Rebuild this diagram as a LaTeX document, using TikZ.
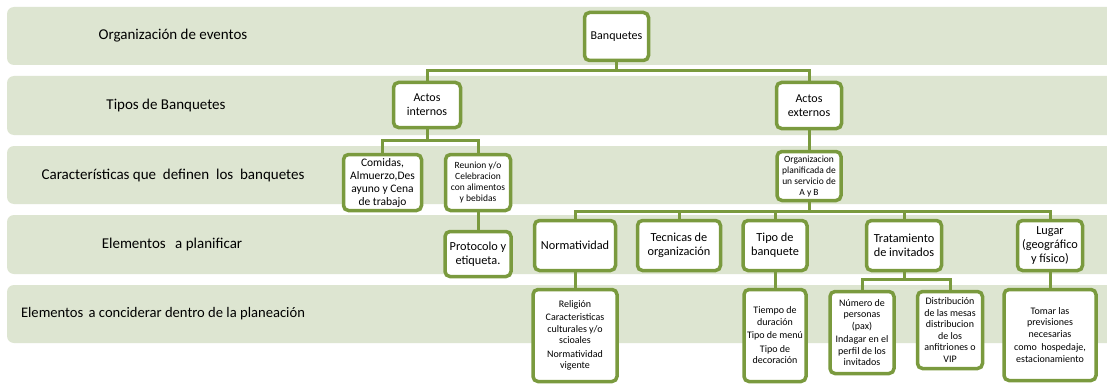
\documentclass[tikz,border=0pt]{standalone}
\usepackage{fontspec}
\setmainfont{Carlito}
\definecolor{bandc}{RGB}{221,229,209}
\definecolor{gc}{RGB}{122,154,62}
\tikzset{
  band/.style={fill=bandc, rounded corners=7pt},
  lab/.style={font=\fontsize{15}{17}\selectfont, anchor=center, inner sep=0pt},
  box/.style={draw=gc, line width=3.5pt, rounded corners=5pt, fill=white, align=center, inner sep=1pt},
  conn/.style={draw=gc, line width=3pt},
  fA/.style={font=\fontsize{12}{14}\selectfont},
  fB/.style={font=\fontsize{11.5}{13}\selectfont},
  fC/.style={font=\fontsize{9.5}{11}\selectfont},
  fD/.style={font=\fontsize{12.3}{14}\selectfont},
  fE/.style={font=\fontsize{10}{11.5}\selectfont},
}
\newcommand{\bx}[6]{\node[box,#1,minimum width=#4pt,minimum height=#5pt] (#2) at (#3) {#6};}
\begin{document}
\begin{tikzpicture}[x=1pt,y=-1pt]
\useasboundingbox (0,0) rectangle (1107,385);
\clip (0,0) rectangle (1107,385);
\fill[white] (0,0) rectangle (1107,385);
% bands
\path[band] (7,7) rectangle (1125,65);
\path[band] (7,76) rectangle (1125,135);
\path[band] (7,146) rectangle (1125,204);
\path[band] (7,215) rectangle (1125,274);
\path[band] (7,285) rectangle (1125,343);
\node[lab] (l1) at (173,36) {Organización de eventos};
\node[lab] (l2) at (166,105.5) {Tipos de Banquetes};
\node[lab] (l3) at (173,175) {Características que\ \ definen\ \ los\ \ banquetes};
\node[lab] (l4) at (172,244.5) {Elementos\hspace{6pt} a planificar};
\node[lab,font=\fontsize{14.6}{17}\selectfont] (l5) at (163,314) {Elementos\hspace{2pt} a conciderar dentro de la planeación};
% nodes
\bx{fA}{ban}{616.5,36.5}{64}{48}{Banquetes}
\bx{fA}{ai}{427,105}{67}{45}{Actos\\internos}
\bx{fA}{ae}{809,105.5}{65}{46}{Actos\\externos}
\bx{fB}{com}{382.5,182.5}{78}{56}{Comidas,\\Almuerzo,Des\\ayuno y Cena\\de trabajo}
\bx{fC}{reu}{478,182.5}{65}{56}{Reunion y/o\\Celebracion\\con alimentos\\y bebidas}
\bx{fC}{org}{809,176}{64}{49}{Organizacion\\planificada de\\un servicio de\\A y B}
\bx{fD}{pro}{478,254}{66}{45}{Protocolo y\\etiqueta.}
\bx{fD}{nor}{575,245.5}{81}{50}{Normatividad}
\bx{fD}{tec}{679,245.5}{83}{50}{Tecnicas de\\organización}
\bx{fD}{tip}{775,245.5}{64}{50}{Tipo de\\banquete}
\bx{fD}{tra}{904,245.5}{75}{50}{Tratamiento\\de invitados}
\bx{fD}{lug}{1050,245.5}{65}{50}{Lugar\\(geográfico\\y físico)}
\bx{fE}{rel}{575,335.5}{84}{92}{Religión\\[2pt]Caracteristicas\\culturales y/o\\scioales\\[2pt]Normatividad\\vigente}
\bx{fE}{tie}{775,335.5}{62}{92}{Tiempo de\\duración\\[2pt]Tipo de menú\\[2pt]Tipo de\\decoración}
\bx{fE}{num}{862,332.5}{64}{82}{Número de\\personas\\(pax)\\[2pt]Indagar en el\\perfil de los\\invitados}
\bx{fE}{dis}{950,330}{65}{77}{Distribución\\de las mesas\\distribucion\\de los\\anfitriones o\\VIP}
\bx{fE}{tom}{1050,335}{92}{91}{Tomar las\\previsiones\\necesarias\\[2pt]como\ \ hospedaje,\\estacionamiento}
% connectors
\coordinate (h1) at (0,71);
\coordinate (h2) at (0,140);
\coordinate (h3) at (0,211);
\coordinate (h4) at (0,279);
\draw[conn] (ban.south) -- (ban.south |- h1) -| (ai.north);
\draw[conn] (ban.south |- h1) -| (ae.north);
\draw[conn] (ai.south) -- (ai.south |- h2) -| (com.north);
\draw[conn] (ai.south |- h2) -| (reu.north);
\draw[conn] (reu.south) -- (pro.north);
\draw[conn] (ae.south) -- (org.north);
\draw[conn] (org.south) -- (org.south |- h3) -| (nor.north);
\draw[conn] (org.south |- h3) -| (tec.north);
\draw[conn] (org.south |- h3) -| (tip.north);
\draw[conn] (org.south |- h3) -| (tra.north);
\draw[conn] (org.south |- h3) -| (lug.north);
\draw[conn] (nor.south) -- (rel.north);
\draw[conn] (tip.south) -- (tie.north);
\draw[conn] (tra.south) -- (tra.south |- h4) -| (num.north);
\draw[conn] (tra.south |- h4) -| (dis.north);
\draw[conn] (lug.south) -- (tom.north);
\end{tikzpicture}
\end{document}
